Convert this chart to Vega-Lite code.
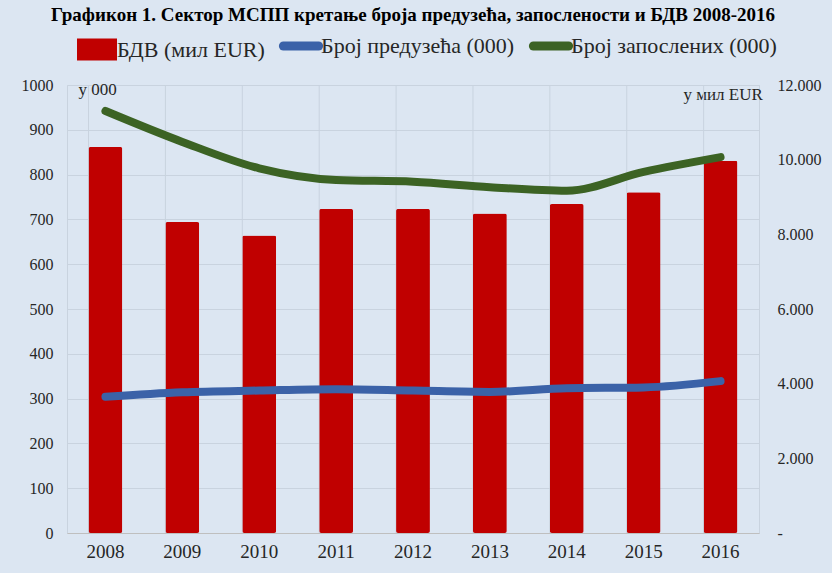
{
  "$schema": "https://vega.github.io/schema/vega-lite/v6.json",
  "width": 692,
  "height": 448,
  "autosize": {"type": "none"},
  "padding": {"left": 67, "top": 85, "right": 73, "bottom": 40},
  "background": "#dce6f2",
  "title": {
    "text": "Графикон 1. Сектор МСПП кретање броја предузећа, запослености и БДВ 2008-2016",
    "font": "Liberation Serif",
    "fontSize": 19,
    "fontWeight": "bold",
    "color": "#000000",
    "anchor": "middle",
    "baseline": "top",
    "offset": 10
  },
  "config": {
    "view": {"stroke": "#c9d3df", "strokeWidth": 1},
    "font": "Liberation Serif",
    "legend": {"labelLimit": 0}
  },
  "data": {
    "values": [
      {"year": "2008", "bdv": 10340, "preduzeca": 304, "zaposleni": 942},
      {"year": "2009", "bdv": 8330, "preduzeca": 314, "zaposleni": 873},
      {"year": "2010", "bdv": 7970, "preduzeca": 318, "zaposleni": 814},
      {"year": "2011", "bdv": 8680, "preduzeca": 321, "zaposleni": 788},
      {"year": "2012", "bdv": 8680, "preduzeca": 318, "zaposleni": 784},
      {"year": "2013", "bdv": 8560, "preduzeca": 315, "zaposleni": 772},
      {"year": "2014", "bdv": 8810, "preduzeca": 323, "zaposleni": 764},
      {"year": "2015", "bdv": 9130, "preduzeca": 325, "zaposleni": 806},
      {"year": "2016", "bdv": 9970, "preduzeca": 339, "zaposleni": 839}
    ]
  },
  "layer": [
    {
      "mark": {"type": "rule", "color": "#c9d3df", "strokeWidth": 1},
      "encoding": {
        "x": {
          "field": "year", "type": "ordinal", "bandPosition": 0,
          "scale": {"paddingInner": 0.56, "paddingOuter": 0.28},
          "axis": {"title": null, "labelAngle": 0, "labelFont": "Liberation Serif", "labelFontSize": 19, "labelColor": "#262626", "ticks": false, "grid": false, "domainColor": "#bfbfbf", "labelPadding": 9}
        }
      }
    },
    {
      "mark": {"type": "bar", "cornerRadius": 2},
      "encoding": {
        "x": {
          "field": "year", "type": "ordinal",
          "scale": {"paddingInner": 0.56, "paddingOuter": 0.28},
          "axis": {"title": null, "labelAngle": 0, "labelFont": "Liberation Serif", "labelFontSize": 19, "labelColor": "#262626", "ticks": false, "grid": false, "domainColor": "#bfbfbf", "labelPadding": 9}
        },
        "y": {
          "field": "bdv", "type": "quantitative",
          "scale": {"domain": [0, 12000], "nice": false},
          "axis": {
            "orient": "right",
            "values": [0, 2000, 4000, 6000, 8000, 10000, 12000],
            "labelExpr": "datum.value == 0 ? '-' : replace(format(datum.value, ','), ',', '.')",
            "labelFont": "Liberation Serif", "labelFontSize": 16, "labelColor": "#262626",
            "labelPadding": 18, "ticks": false, "domain": false, "grid": false,
            "title": "у мил EUR", "titleAngle": 0, "titleAlign": "left", "titleBaseline": "alphabetic",
            "titleX": -76, "titleY": 14, "titleFont": "Liberation Serif", "titleFontSize": 17,
            "titleFontWeight": "normal", "titleColor": "#262626"
          }
        },
        "color": {
          "datum": "bdv",
          "scale": {"domain": ["bdv", "preduzeca", "zaposleni"], "range": ["#c00000", "#3b62a8", "#3c6324"]},
          "legend": {
            "orient": "none", "legendX": 19, "legendY": -50, "direction": "horizontal",
            "title": null,
            "labelExpr": "datum.value == 'bdv' ? 'БДВ (мил EUR)' : datum.value == 'preduzeca' ? 'Број предузећа (000)' : 'Број запослених (000)'",
            "labelFont": "Liberation Serif", "labelFontSize": 22, "labelColor": "#262626", "labelLimit": 0,
            "symbolSize": 1600, "labelOffset": 9, "columnPadding": 0,
            "encode": {
              "symbols": {
                "update": {
                  "shape": {"signal": "datum.value == 'bdv' ? 'M-1,-0.55H1V0.55H-1Z' : 'M-0.88,0H0.88'"},
                  "fill": {"signal": "datum.value == 'bdv' ? '#c00000' : 'transparent'"},
                  "stroke": {"signal": "datum.value == 'bdv' ? 'transparent' : datum.value == 'preduzeca' ? '#3b62a8' : '#3c6324'"},
                  "strokeWidth": {"signal": "datum.value == 'bdv' ? 0 : 9"},
                  "strokeCap": {"value": "round"},
                  "opacity": {"value": 1},
                  "fillOpacity": {"value": 1}
                }
              }
            }
          }
        }
      }
    },
    {
      "transform": [{"fold": ["preduzeca", "zaposleni"], "as": ["series", "val"]}],
      "mark": {"type": "line", "strokeWidth": 8, "interpolate": "monotone", "strokeCap": "round"},
      "encoding": {
        "x": {
          "field": "year", "type": "ordinal",
          "scale": {"paddingInner": 0.56, "paddingOuter": 0.28},
          "axis": {"title": null, "labelAngle": 0, "labelFont": "Liberation Serif", "labelFontSize": 19, "labelColor": "#262626", "ticks": false, "grid": false, "domainColor": "#bfbfbf", "labelPadding": 9}
        },
        "y": {
          "field": "val", "type": "quantitative",
          "scale": {"domain": [0, 1000], "nice": false},
          "axis": {
            "orient": "left",
            "values": [0, 100, 200, 300, 400, 500, 600, 700, 800, 900, 1000],
            "format": "d",
            "labelFont": "Liberation Serif", "labelFontSize": 16, "labelColor": "#262626",
            "labelPadding": 14, "ticks": false, "domain": false,
            "grid": true, "gridColor": "#c9d3df", "gridWidth": 1,
            "title": "у 000", "titleAngle": 0, "titleAlign": "left", "titleBaseline": "alphabetic",
            "titleX": 11, "titleY": 9, "titleFont": "Liberation Serif", "titleFontSize": 17,
            "titleFontWeight": "normal", "titleColor": "#262626"
          }
        },
        "color": {
          "field": "series",
          "scale": {"domain": ["bdv", "preduzeca", "zaposleni"], "range": ["#c00000", "#3b62a8", "#3c6324"]},
          "legend": {
            "orient": "none", "legendX": 19, "legendY": -50, "direction": "horizontal",
            "title": null,
            "labelExpr": "datum.value == 'bdv' ? 'БДВ (мил EUR)' : datum.value == 'preduzeca' ? 'Број предузећа (000)' : 'Број запослених (000)'",
            "labelFont": "Liberation Serif", "labelFontSize": 22, "labelColor": "#262626", "labelLimit": 0,
            "symbolSize": 1600, "labelOffset": 9, "columnPadding": 0
          }
        },
        "detail": {"field": "series"}
      }
    }
  ],
  "resolve": {"scale": {"y": "independent"}}
}
